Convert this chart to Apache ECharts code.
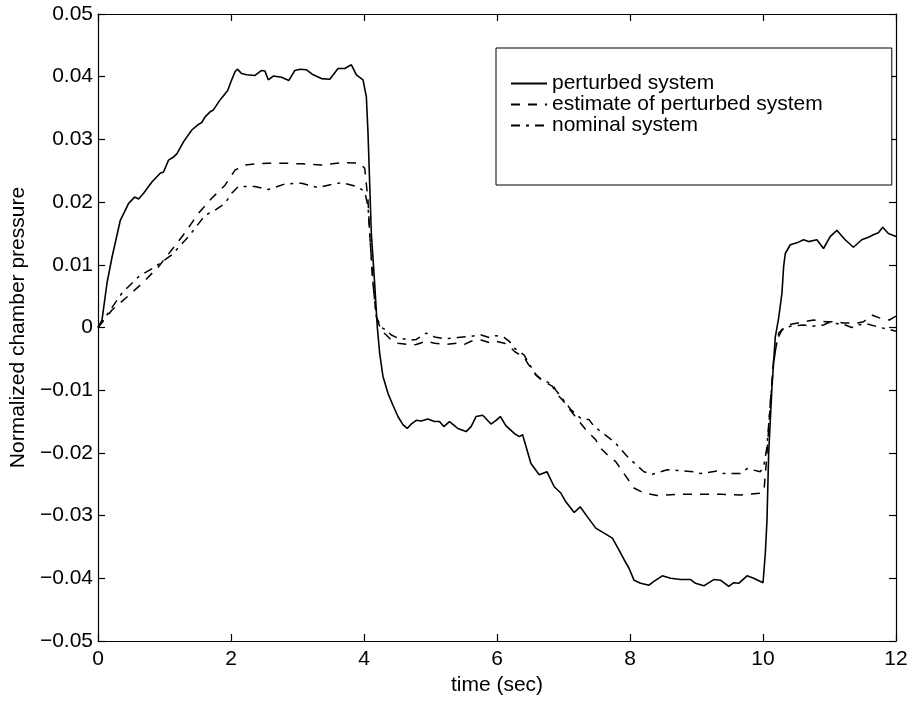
<!DOCTYPE html>
<html>
<head>
<meta charset="utf-8">
<script src="https://cdn.jsdelivr.net/npm/echarts@6/dist/echarts.min.js"></script>
<style>html,body{margin:0;padding:0;background:#fff;}#c{width:914px;height:702px;}</style>
</head>
<body>
<div id="c"></div>
<script>
// ---- data (time in sec, normalized chamber pressure) ----
const seriesNames = ['perturbed system', 'estimate of perturbed system', 'nominal system'];

const perturbedT = [0,0.06,0.135,0.21,0.335,0.46,0.55,0.61,0.685,0.81,0.935,0.985,1.06,1.135,1.185,1.285,1.41,1.51,1.56,1.61,1.685,1.735,1.835,1.95,2.01,2.06,2.095,2.16,2.235,2.36,2.46,2.51,2.56,2.635,2.76,2.87,2.96,3.035,3.135,3.235,3.36,3.485,3.61,3.71,3.81,3.885,3.985,4.035,4.06,4.085,4.11,4.16,4.2,4.235,4.285,4.36,4.435,4.51,4.585,4.65,4.71,4.785,4.86,4.96,5.06,5.135,5.2,5.285,5.41,5.535,5.61,5.685,5.785,5.91,5.985,6.05,6.135,6.26,6.335,6.385,6.51,6.635,6.75,6.86,6.96,7.035,7.16,7.25,7.36,7.485,7.61,7.735,7.835,7.91,7.985,8.06,8.16,8.285,8.36,8.485,8.61,8.76,8.91,8.985,9.11,9.26,9.36,9.485,9.56,9.635,9.76,9.86,10.0,10.035,10.06,10.085,10.135,10.185,10.235,10.285,10.31,10.335,10.41,10.51,10.61,10.685,10.81,10.91,11.01,11.11,11.235,11.36,11.485,11.585,11.66,11.735,11.8,11.885,12.0];
const perturbedY = [0,0.0012,0.0071,0.0112,0.0171,0.0198,0.0208,0.0205,0.0214,0.0232,0.0246,0.0248,0.0267,0.0272,0.0277,0.0296,0.0315,0.0324,0.0327,0.0336,0.0344,0.0347,0.0363,0.0378,0.0395,0.0408,0.0412,0.0405,0.0403,0.0402,0.041,0.0409,0.0395,0.0401,0.0399,0.0394,0.041,0.0412,0.0411,0.0403,0.0397,0.0396,0.0413,0.0413,0.0419,0.0403,0.0395,0.0368,0.031,0.023,0.015,0.007,0.0,-0.0041,-0.0078,-0.0105,-0.0124,-0.0142,-0.0155,-0.0161,-0.0154,-0.0148,-0.0149,-0.0146,-0.015,-0.015,-0.0158,-0.015,-0.0161,-0.0166,-0.0158,-0.0142,-0.014,-0.0154,-0.0148,-0.0142,-0.0157,-0.0169,-0.0174,-0.0171,-0.0217,-0.0235,-0.023,-0.0254,-0.0264,-0.0278,-0.0295,-0.0286,-0.0302,-0.032,-0.0328,-0.0336,-0.0355,-0.037,-0.0384,-0.0403,-0.0408,-0.0411,-0.0405,-0.0396,-0.04,-0.0402,-0.0402,-0.0408,-0.0412,-0.0402,-0.0403,-0.0413,-0.0407,-0.0408,-0.0396,-0.04,-0.0407,-0.036,-0.0307,-0.0201,-0.0094,-0.0015,0.0015,0.0055,0.0097,0.0118,0.0132,0.0135,0.014,0.0137,0.014,0.0126,0.0145,0.0155,0.014,0.0128,0.014,0.0144,0.0148,0.0151,0.016,0.015,0.0145];

const estimateT = [0,0.21,0.45,0.66,0.91,1.11,1.285,1.51,1.71,1.91,2.06,2.21,2.36,2.56,2.8,3.06,3.36,3.66,3.935,4.01,4.06,4.085,4.135,4.185,4.26,4.335,4.41,4.51,4.71,4.785,4.935,5.06,5.21,5.41,5.51,5.61,5.76,5.885,5.985,6.11,6.185,6.26,6.41,6.46,6.585,6.66,6.835,6.885,7.01,7.11,7.26,7.335,7.485,7.535,7.66,7.785,7.91,8.06,8.21,8.41,8.71,9.06,9.36,9.66,9.985,10.02,10.06,10.11,10.16,10.235,10.36,10.56,10.76,10.96,11.11,11.21,11.41,11.51,11.635,11.76,11.9,12.0];
const estimateY = [0,0.0028,0.005,0.007,0.0097,0.0124,0.0148,0.0182,0.0206,0.0227,0.0251,0.0259,0.0261,0.0262,0.0262,0.0261,0.0259,0.0263,0.0262,0.0254,0.0203,0.015,0.007,0.0017,-0.0005,-0.0012,-0.002,-0.0025,-0.0028,-0.0027,-0.0022,-0.0025,-0.0027,-0.0025,-0.0027,-0.0022,-0.002,-0.0024,-0.0022,-0.0025,-0.003,-0.0038,-0.0048,-0.0057,-0.0076,-0.0083,-0.0094,-0.0104,-0.0119,-0.0133,-0.0153,-0.0163,-0.0179,-0.019,-0.0203,-0.0214,-0.0233,-0.0256,-0.0264,-0.0268,-0.0266,-0.0266,-0.0266,-0.0267,-0.0264,-0.0254,-0.0201,-0.0121,-0.0052,-0.0009,0.0004,0.0008,0.0012,0.0009,0.0009,0.0007,0.0007,0.0009,0.002,0.0015,0.0012,0.0018];

const nominalT = [0,0.12,0.36,0.61,0.86,1.11,1.36,1.61,1.76,1.91,2.01,2.11,2.36,2.56,2.81,3.06,3.31,3.46,3.66,3.885,4.01,4.06,4.085,4.135,4.185,4.26,4.335,4.41,4.51,4.71,4.785,4.935,5.06,5.21,5.41,5.61,5.76,5.885,5.985,6.11,6.185,6.26,6.41,6.46,6.585,6.66,6.835,6.885,7.01,7.11,7.26,7.385,7.46,7.66,7.76,7.935,8.01,8.21,8.335,8.56,8.71,8.96,9.06,9.31,9.41,9.66,9.76,9.96,10.01,10.06,10.11,10.16,10.21,10.285,10.41,10.61,10.735,10.91,10.985,11.21,11.335,11.41,11.56,11.76,11.9,12.0];
const nominalY = [0,0.0018,0.0055,0.0081,0.0097,0.0116,0.0145,0.0179,0.0187,0.0198,0.0214,0.0225,0.0225,0.022,0.0229,0.023,0.0223,0.0227,0.0231,0.0225,0.0217,0.0193,0.015,0.007,0.0017,0.0,-0.0004,-0.0012,-0.0017,-0.002,-0.0019,-0.0009,-0.0015,-0.0018,-0.0016,-0.0014,-0.0012,-0.0016,-0.0013,-0.0016,-0.0022,-0.0033,-0.0044,-0.0054,-0.0075,-0.0082,-0.0091,-0.01,-0.0117,-0.0131,-0.0145,-0.0147,-0.0158,-0.0174,-0.0182,-0.0203,-0.0211,-0.023,-0.0234,-0.0227,-0.0228,-0.023,-0.0233,-0.0229,-0.0233,-0.0233,-0.0225,-0.023,-0.0222,-0.019,-0.0121,-0.0057,-0.002,-0.0004,0.0002,0.0004,0.0002,0.0004,0.0008,0.0005,0.0,0.0004,0.0006,0.0,-0.0003,-0.0006];

const xTickLabels = ['0', '2', '4', '6', '8', '10', '12'];
const yTickLabels = ['\u22120.05', '\u22120.04', '\u22120.03', '\u22120.02', '\u22120.01', '0', '0.01', '0.02', '0.03', '0.04', '0.05'];
const xAxisTitle = 'time (sec)';
const yAxisTitle = 'Normalized chamber pressure';

// ---- chart ----
const FONT = "'Liberation Sans', Arial, Helvetica, sans-serif";
function pairs(t, y) { return t.map((v, i) => [v, y[i]]); }

const chart = echarts.init(document.getElementById('c'), null, { renderer: 'canvas' });

const axisLineStyle = { color: '#000', width: 1.2 };
const tickStyle = { show: true, inside: true, length: 7, lineStyle: { color: '#000', width: 1.2 } };

chart.setOption({
  animation: false,
  backgroundColor: '#fff',
  grid: { left: 96, right: 18, top: 14, bottom: 61, containLabel: false },
  legend: {
    orient: 'vertical',
    left: 496, top: 48,
    padding: [25, 69, 49, 14],
    itemWidth: 36, itemHeight: 10, itemGap: 0,
    backgroundColor: '#fff',
    borderColor: '#000', borderWidth: 1,
    itemStyle: { opacity: 0, borderWidth: 0 },
    textStyle: { fontFamily: FONT, fontSize: 21, color: '#000', lineHeight: 20 },
    data: seriesNames
  },
  xAxis: [
    {
      type: 'value', min: 0, max: 12, interval: 2,
      name: xAxisTitle, nameLocation: 'middle', nameGap: 34,
      nameTextStyle: { fontFamily: FONT, fontSize: 21, color: '#000' },
      axisLine: { show: true, onZero: false, lineStyle: axisLineStyle },
      axisTick: tickStyle,
      axisLabel: { show: true, margin: 8, fontFamily: FONT, fontSize: 21, color: '#000',
        formatter: v => xTickLabels[Math.round(v / 2)] },
      splitLine: { show: false }
    },
    {
      type: 'value', min: 0, max: 12, interval: 2, position: 'top',
      axisLine: { show: true, onZero: false, lineStyle: axisLineStyle },
      axisTick: tickStyle, axisLabel: { show: false }, splitLine: { show: false }
    }
  ],
  yAxis: [
    {
      type: 'value', min: -0.05, max: 0.05, interval: 0.01,
      name: yAxisTitle, nameLocation: 'middle', nameGap: 60, nameRotate: 90,
      nameTextStyle: { fontFamily: FONT, fontSize: 21, color: '#000' },
      axisLine: { show: true, onZero: false, lineStyle: axisLineStyle },
      axisTick: tickStyle,
      axisLabel: { show: true, margin: 5, fontFamily: FONT, fontSize: 21, color: '#000',
        formatter: v => yTickLabels[Math.round(v * 100) + 5] },
      splitLine: { show: false }
    },
    {
      type: 'value', min: -0.05, max: 0.05, interval: 0.01, position: 'right',
      axisLine: { show: true, onZero: false, lineStyle: axisLineStyle },
      axisTick: tickStyle, axisLabel: { show: false }, splitLine: { show: false }
    }
  ],
  series: [
    {
      name: seriesNames[0], type: 'line', symbol: 'none', smooth: false,
      data: pairs(perturbedT, perturbedY),
      lineStyle: { color: '#000', width: 1.6, type: 'solid' },
      itemStyle: { color: '#000' }, z: 3
    },
    {
      name: seriesNames[1], type: 'line', symbol: 'none', smooth: false,
      data: pairs(estimateT, estimateY),
      lineStyle: { color: '#000', width: 1.5, type: [9, 8] },
      itemStyle: { color: '#000' }, z: 2
    },
    {
      name: seriesNames[2], type: 'line', symbol: 'none', smooth: false,
      data: pairs(nominalT, nominalY),
      lineStyle: { color: '#000', width: 1.5, type: [9, 6, 3, 6] },
      itemStyle: { color: '#000' }, z: 2
    }
  ]
});
</script>
</body>
</html>
